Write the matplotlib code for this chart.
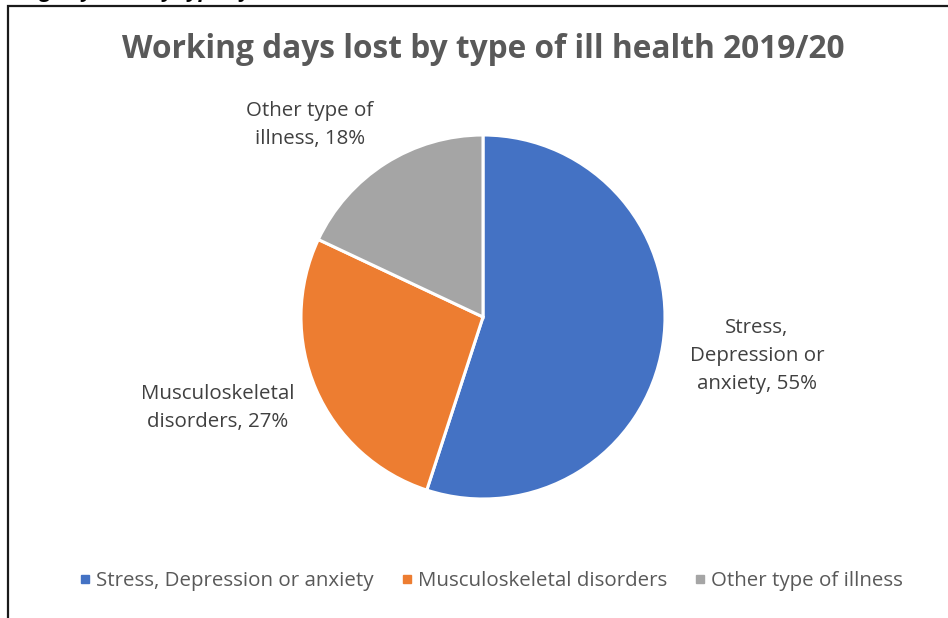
import matplotlib
matplotlib.use("Agg")
import matplotlib.pyplot as plt
from matplotlib.patches import Rectangle
from matplotlib.lines import Line2D

categories = ["Stress, Depression or anxiety", "Musculoskeletal disorders", "Other type of illness"]
values = [55, 27, 18]
label_texts = ["Stress,\nDepression or\nanxiety, 55%", "Musculoskeletal\ndisorders, 27%", "Other type of\nillness, 18%"]
colors = ["#4472C4", "#ED7D31", "#A5A5A5"]
title = "Working days lost by type of ill health 2019/20"

W, H = 948, 618
DPI = 100
plt.rcParams['font.family'] = ['Open Sans', 'DejaVu Sans']

fig = plt.figure(figsize=(W / DPI, H / DPI), dpi=DPI)
fig.patch.set_facecolor("white")

def fx(x):
    return x / W

def fy(y):
    return 1 - y / H

def pt(px):
    return px * 72 / DPI

# cut-off caption from document above the chart
fig.text(fx(-30), fy(-3.5), title, fontsize=pt(21), fontweight="bold", fontstyle="italic",
         color="black", ha="left", va="baseline")

# chart frame
frame = Rectangle((fx(8), fy(640)), fx(960), fy(6) - fy(640), transform=fig.transFigure,
                  fill=False, edgecolor="#1a1a1a", linewidth=1.6, zorder=0)
fig.patches.append(frame)

# pie axes
cx, cy, r = 483, 317, 182
ax = fig.add_axes([fx(cx - r), fy(cy + r), fx(2 * r), fy(cy - r) - fy(cy + r)])
ax.pie(values, colors=colors, startangle=90, counterclock=False,
       wedgeprops=dict(edgecolor="white", linewidth=2.2))
ax.set_aspect("equal")
ax.set_xlim(-1, 1)
ax.set_ylim(-1, 1)
ax.axis("off")

# title
fig.text(fx(483), fy(50), title, fontsize=pt(31.6), fontweight="bold", color="#595959",
         ha="center", va="center")

# data labels
label_pos = [(757, 356), (218, 408), (310, 125)]
for (x, y), t in zip(label_pos, label_texts):
    fig.text(fx(x), fy(y), t, fontsize=pt(20.5), color="#404040", ha="center", va="center",
             linespacing=1.5)

# legend
handles = [Line2D([0], [0], marker="s", linestyle="none", markersize=pt(7.5),
                  markerfacecolor=c, markeredgecolor=c) for c in colors]
fig.legend(handles, categories, loc="center", bbox_to_anchor=(fx(491), fy(581)), ncol=3,
           frameon=False, fontsize=pt(20.5), labelcolor="#595959", handletextpad=0.25,
           columnspacing=1.3, handlelength=0.6)

fig.savefig("out.png", dpi=DPI, facecolor="white")
